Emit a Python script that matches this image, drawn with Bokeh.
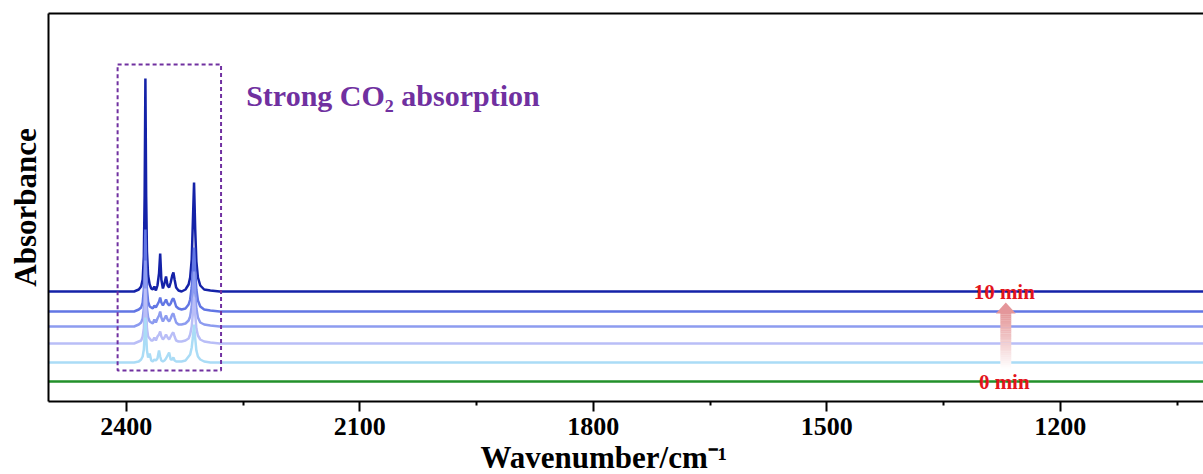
from bokeh.plotting import figure
from bokeh.models import Range1d, LinearAxis, FixedTicker, Label, Title, ColumnDataSource
from bokeh.embed import file_html
from bokeh.resources import INLINE

# ---- spectra: absorbance above each trace's own baseline ----
wavenumber = [2500, 2390, 2384, 2381, 2379, 2377.5, 2376.5, 2375.5, 2374.5, 2373.5,
              2372, 2370, 2368, 2366, 2364, 2362, 2360, 2358, 2356.5, 2355,
              2353, 2351, 2349, 2347, 2345, 2343, 2341, 2339.5, 2338, 2336,
              2333, 2329, 2324, 2320, 2318, 2316, 2314.5, 2313, 2311.5, 2310,
              2308, 2305, 2300, 2292, 2280, 1000]

abs_10min = [0.00, 0.00, 0.02, 0.05, 0.12, 0.35, 0.95, 2.13, 0.95, 0.40,
             0.16, 0.07, 0.03, 0.02, 0.05, 0.01, 0.06, 0.18, 0.38, 0.12,
             0.03, 0.08, 0.15, 0.06, 0.04, 0.09, 0.16, 0.19, 0.12, 0.04,
             0.01, 0.00, 0.02, 0.07, 0.14, 0.32, 0.70, 1.09, 0.62, 0.30,
             0.14, 0.06, 0.02, 0.01, 0.00, 0.00]

abs_8min = [0.00, 0.00, 0.02, 0.04, 0.09, 0.22, 0.45, 0.82, 0.45, 0.22,
            0.10, 0.05, 0.04, 0.03, 0.06, 0.04, 0.07, 0.10, 0.14, 0.09,
            0.06, 0.09, 0.12, 0.08, 0.06, 0.08, 0.12, 0.13, 0.10, 0.05,
            0.03, 0.02, 0.03, 0.07, 0.12, 0.24, 0.42, 0.64, 0.40, 0.22,
            0.11, 0.05, 0.02, 0.01, 0.00, 0.00]

abs_6min = [0.00, 0.00, 0.02, 0.04, 0.08, 0.18, 0.38, 0.66, 0.38, 0.18,
            0.09, 0.05, 0.04, 0.03, 0.07, 0.04, 0.08, 0.11, 0.15, 0.09,
            0.05, 0.08, 0.11, 0.07, 0.05, 0.08, 0.12, 0.13, 0.09, 0.04,
            0.02, 0.02, 0.03, 0.06, 0.10, 0.20, 0.36, 0.55, 0.34, 0.18,
            0.09, 0.04, 0.02, 0.01, 0.00, 0.00]

abs_4min = [0.00, 0.00, 0.02, 0.03, 0.07, 0.15, 0.32, 0.55, 0.32, 0.15,
            0.07, 0.05, 0.03, 0.03, 0.06, 0.03, 0.07, 0.09, 0.12, 0.07,
            0.04, 0.06, 0.09, 0.06, 0.04, 0.07, 0.10, 0.11, 0.07, 0.03,
            0.02, 0.02, 0.03, 0.05, 0.09, 0.17, 0.30, 0.46, 0.29, 0.15,
            0.08, 0.04, 0.02, 0.01, 0.00, 0.00]

abs_2min = [0.00, 0.00, 0.01, 0.03, 0.06, 0.13, 0.27, 0.45, 0.27, 0.12,
            0.05, 0.09, 0.02, 0.01, 0.03, 0.02, 0.04, 0.12, 0.06, 0.02,
            0.01, 0.02, 0.04, 0.07, 0.10, 0.03, 0.03, 0.05, 0.02, 0.01,
            0.01, 0.01, 0.02, 0.06, 0.08, 0.15, 0.25, 0.38, 0.24, 0.12,
            0.06, 0.03, 0.01, 0.00, 0.00, 0.00]

wavenumber_0min = [2500, 1000]
abs_0min = [0.00, 0.00]

# vertical stacking offsets of the traces
offset_0min, offset_2min, offset_4min = 0.20, 0.39, 0.58
offset_6min, offset_8min, offset_10min = 0.75, 0.90, 1.10

# axis ticks
tick_values = [2400, 2100, 1800, 1500, 1200]
minor_tick_values = [2250, 1950, 1650, 1350, 1050]

SERIF = "Liberation Serif"

p = figure(width=1203, height=474,
           x_range=Range1d(2500, 1016), y_range=Range1d(0, 3.88),
           output_backend="svg", toolbar_location=None,
           min_border_left=48, min_border_right=0,
           min_border_top=13, min_border_bottom=0)
p.outline_line_color = None
p.grid.visible = False
p.background_fill_color = "white"
p.border_fill_color = "white"

# bottom axis
xa = p.xaxis[0]
xa.ticker = FixedTicker(ticks=tick_values, minor_ticks=minor_tick_values)
xa.axis_line_width = 2
xa.axis_line_color = "black"
xa.major_tick_line_width = 2
xa.minor_tick_line_width = 2
xa.major_tick_in = 0
xa.major_tick_out = 10
xa.minor_tick_in = 0
xa.minor_tick_out = 4
xa.major_label_standoff = 6
xa.major_label_text_font = SERIF
xa.major_label_text_font_style = "bold"
xa.major_label_text_font_size = "26px"
xa.major_label_text_color = "black"

# x title, set slightly left of the frame centre
p.add_layout(Title(text="Wavenumber/cm\u207b\u00b9", align="left", offset=432,
                   standoff=0, text_font=SERIF, text_font_style="bold",
                   text_font_size="31px", text_color="black"), "below")

# left axis: frame line and title only
ya = p.yaxis[0]
ya.ticker = FixedTicker(ticks=[])
ya.axis_line_width = 2
ya.axis_line_color = "black"
ya.major_tick_line_color = None
ya.minor_tick_line_color = None
ya.axis_label = "Absorbance"
ya.axis_label_standoff = 6
ya.axis_label_text_font = SERIF
ya.axis_label_text_font_style = "bold"
ya.axis_label_text_font_size = "31px"
ya.axis_label_text_color = "black"

# top frame line
top = LinearAxis(ticker=FixedTicker(ticks=[]), axis_line_width=2,
                 axis_line_color="black", major_tick_line_color=None,
                 minor_tick_line_color=None)
p.add_layout(top, "above")

# traces
traces = [
    (wavenumber, abs_10min, offset_10min, "#1422a8"),
    (wavenumber, abs_8min, offset_8min, "#6276e4"),
    (wavenumber, abs_6min, offset_6min, "#8d9cf0"),
    (wavenumber, abs_4min, offset_4min, "#b9bef7"),
    (wavenumber, abs_2min, offset_2min, "#aadcf6"),
    (wavenumber_0min, abs_0min, offset_0min, "#22902a"),
]
for wn, ab, off, col in traces:
    src = ColumnDataSource(dict(x=wn, y=[a + off for a in ab]))
    p.line("x", "y", source=src, line_color=col, line_width=2.5)

# dashed box around the CO2 band
p.quad(left=[2411.2], right=[2278.3], bottom=[0.31], top=[3.37],
       fill_color=None, line_color="#7030a0", line_width=2, line_dash="4 3")

# time arrow: white-to-pink shaft plus head
arrow_x, shaft_hw, head_hw = 1270, 7.0, 12.8
shaft_bottom, shaft_top, tip = 0.33, 0.885, 0.99
n_steps = 30
start_rgb, end_rgb = (255, 255, 255), (228, 150, 152)
lefts, rights, bottoms, tops, colors = [], [], [], [], []
for i in range(n_steps):
    f0 = i / n_steps
    f1 = (i + 1) / n_steps
    t = (f0 + f1) / 2
    rgb = tuple(int(round(s + (e - s) * t)) for s, e in zip(start_rgb, end_rgb))
    lefts.append(arrow_x + shaft_hw)
    rights.append(arrow_x - shaft_hw)
    bottoms.append(shaft_bottom + (shaft_top - shaft_bottom) * f0)
    tops.append(shaft_bottom + (shaft_top - shaft_bottom) * f1 + 0.002)
    colors.append("#%02x%02x%02x" % rgb)
p.quad(left=lefts, right=rights, bottom=bottoms, top=tops,
       fill_color=colors, line_color=None)
p.patch([arrow_x + head_hw, arrow_x, arrow_x - head_hw],
        [shaft_top - 0.005, tip, shaft_top - 0.005],
        fill_color="#e4969a", line_color=None)

# annotations
for txt, yy in (("10 min", offset_10min), ("0 min", offset_0min)):
    p.add_layout(Label(x=1272, y=yy, text=txt, text_align="center",
                       text_baseline="middle", text_color="#e3141c",
                       text_font=SERIF, text_font_style="bold",
                       text_font_size="21px"))

p.add_layout(Label(x=2246, y=3.06, text="Strong CO\u2082 absorption",
                   text_align="left", text_baseline="alphabetic",
                   text_color="#7030a0", text_font=SERIF,
                   text_font_style="bold", text_font_size="30px"))

open("out.html", "w").write(file_html(p, INLINE))
